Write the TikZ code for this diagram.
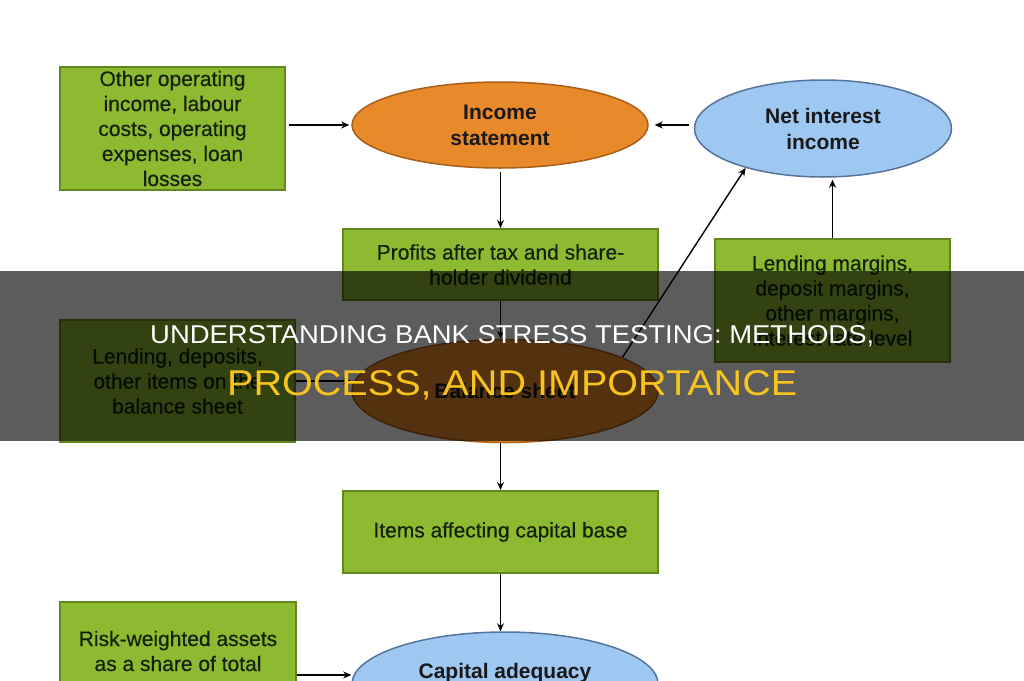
\documentclass[tikz,border=0pt]{standalone}
\usepackage{graphicx}
\usepackage{fontspec}
\setmainfont{Liberation Sans}
\usetikzlibrary{shapes.geometric,arrows.meta}
\definecolor{boxgreen}{RGB}{141,186,48}
\definecolor{boxedge}{RGB}{98,135,30}
\definecolor{boxtext}{RGB}{22,32,10}
\definecolor{ovorange}{RGB}{233,138,42}
\definecolor{ovoredge}{RGB}{170,95,25}
\definecolor{ovblue}{RGB}{158,199,242}
\definecolor{ovbedge}{RGB}{85,115,155}
\definecolor{titleyellow}{RGB}{247,196,30}
\begin{document}
\begin{tikzpicture}[x=1pt,y=-1pt,
  gbox/.style={rectangle,draw=boxedge,fill=boxgreen,line width=2pt,text=boxtext,align=center,inner sep=0pt,font=\fontsize{21}{25}\selectfont\addfontfeature{FakeBold=0.4}},
  oval/.style={ellipse,line width=1.5pt,align=center,inner sep=0pt,text=black!90,font=\bfseries\fontsize{21}{26}\selectfont},
  orangeoval/.style={oval,draw=ovoredge,fill=ovorange},
  blueoval/.style={oval,draw=ovbedge,fill=ovblue},
  arr/.style={line width=1.4pt,-{Stealth[length=8pt,width=7pt]}},
  title/.style={anchor=base west,inner sep=0pt}
  ]
\useasboundingbox (0,0) rectangle (1024,680);
\clip (0,0) rectangle (1024,680);
\fill[white] (0,0) rectangle (1024,680);

\node[gbox,minimum width=225pt,minimum height=123pt] (ops) at (172.5,128.5) {Other operating\\income, labour\\costs, operating\\expenses, loan\\losses};
\node[orangeoval,minimum width=296pt,minimum height=86pt] (is) at (500,125) {Income\\statement};
\node[blueoval,minimum width=257pt,minimum height=97pt] (nii) at (823,128.5) {Net interest\\income};
\node[gbox,minimum width=315pt,minimum height=71pt] (prof) at (500.5,264.5) {Profits after tax and share-\\holder dividend};
\node[gbox,minimum width=235pt,minimum height=123pt] (lm) at (832.5,300.5) {Lending margins,\\deposit margins,\\other margins,\\interest rate level};
\node[gbox,minimum width=235pt,minimum height=122pt] (ld) at (177.5,381) {Lending, deposits,\\other items on the\\balance sheet};
\node[orangeoval,minimum width=306pt,minimum height=103pt] (bs) at (505,391) {Balance sheet};
\node[gbox,minimum width=315pt,minimum height=82pt] (items) at (500.5,532) {Items affecting capital base};
\node[blueoval,minimum width=306pt,minimum height=104pt] (ca) at (505,684) {Capital adequacy\\\phantom{ratio}};
\node[gbox,minimum width=236pt,minimum height=123pt] (rw) at (178,663.5) {Risk-weighted assets\\as a share of total\\\phantom{assets}};

\draw[arr,shorten <=3pt,shorten >=2pt] (ops.east |- is.west) -- (is.west);
\draw[arr,shorten <=5pt,shorten >=6pt] (nii.west |- is.east) -- (is.east);
\draw[arr,shorten <=3pt] (prof.north |- is.south) -- (prof.north);
\draw[arr,shorten >=2pt] (lm.north) -- (lm.north |- nii.south);
\draw[arr] (prof.south) -- (prof.south |- bs.north);
\draw[arr] (ld.east) -- (ld.east -| bs.west);
\draw[arr] (bs.16) -- (nii.207);
\draw[arr] (items.north |- bs.south) -- (items.north);
\draw[arr] (items.south) -- (items.south |- ca.north);
\coordinate (rwlevel) at (0,675);
\draw[arr] (rw.east |- rwlevel) -- (ca.west |- rwlevel);

\fill[black,opacity=0.64] (0,271) rectangle (1024,441);
\node[title,text=white] (t1) at (150,343) {\resizebox{724pt}{18pt}{\fontsize{25}{25}\selectfont UNDERSTANDING BANK STRESS TESTING: METHODS,}};
\node[title,text=titleyellow] (t2) at (227,395) {\resizebox{570pt}{25pt}{\fontsize{35}{35}\selectfont PROCESS, AND IMPORTANCE}};
\end{tikzpicture}
\end{document}
